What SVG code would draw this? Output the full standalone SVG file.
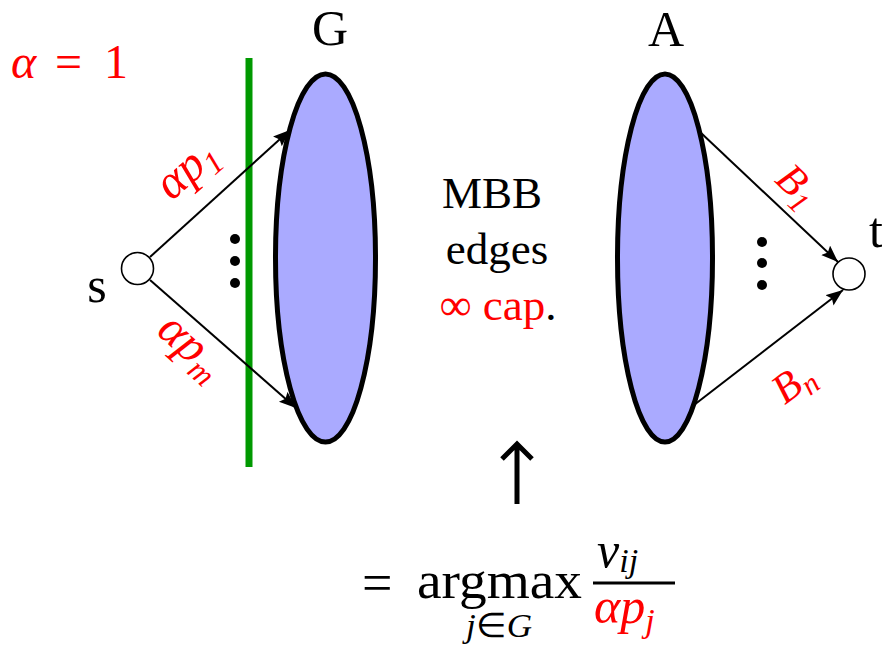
<svg xmlns="http://www.w3.org/2000/svg" width="882" height="651" viewBox="0 0 882 651">
<defs>
<style>
text{font-family:"Liberation Serif","Times New Roman",serif}
.ital{font-style:italic}
.red{fill:#ff0000}
.set{fill:#aaaaff;stroke:#000;stroke-width:5}
.vert{fill:#fff;stroke:#000;stroke-width:1.6}
.edge{stroke:#000;stroke-width:2;fill:none;marker-end:url(#ah)}
.dot{fill:#000}
</style>
<marker id="ah" markerUnits="userSpaceOnUse" markerWidth="18" markerHeight="14" refX="17" refY="6.5" orient="auto">
<path d="M0,0 L17,6.5 L0,13 L3,6.5 z" fill="#000"/>
</marker>
</defs>
<rect width="882" height="651" fill="#fff"/>

<g id="alpha-eq" font-family="Liberation Serif, serif">
<text x="11" y="78" class="ital red" font-size="48">α</text>
<text x="55" y="78" class="red" font-size="48">=</text>
<text x="104" y="78" class="red" font-size="48">1</text>
</g>

<g id="cut">
<line x1="249" y1="58" x2="249" y2="467" stroke="#009900" stroke-width="7"/>
</g>

<g id="G">
<ellipse cx="325.5" cy="258" rx="50" ry="184" class="set"/>
<text x="330" y="45" font-family="Liberation Serif, serif" font-size="50" text-anchor="middle">G</text>
</g>

<g id="A">
<ellipse cx="665" cy="258" rx="47.5" ry="184" class="set"/>
<text x="666" y="46" font-family="Liberation Serif, serif" font-size="50" text-anchor="middle">A</text>
</g>

<g id="s">
<circle cx="137.5" cy="268.5" r="16" class="vert"/>
<text x="97" y="302" font-family="Liberation Serif, serif" font-size="50" text-anchor="middle">s</text>
</g>

<g id="t">
<circle cx="849" cy="274" r="16" class="vert"/>
<text x="876" y="247" font-family="Liberation Serif, serif" font-size="50" text-anchor="middle">t</text>
</g>

<g id="middle-label" font-family="Liberation Serif, serif">
<text x="492" y="208" font-size="45" text-anchor="middle">MBB</text>
<text x="497" y="264" font-size="45" text-anchor="middle">edges</text>
<text x="498" y="320" font-size="45" text-anchor="middle"><tspan fill="#ff0000">∞ cap</tspan>.</text>
</g>

<g id="connectors">
<line x1="150" y1="257" x2="290" y2="130" class="edge"/>
<line x1="150" y1="280" x2="296" y2="408" class="edge"/>
<line x1="700" y1="132" x2="838" y2="262" class="edge"/>
<line x1="694" y1="405" x2="843" y2="290" class="edge"/>
<g id="dots-left">
<circle cx="235" cy="239" r="5" class="dot"/>
<circle cx="235" cy="261" r="5" class="dot"/>
<circle cx="235" cy="283" r="5" class="dot"/>
</g>
<g id="dots-right">
<circle cx="762" cy="242" r="5" class="dot"/>
<circle cx="762" cy="263" r="5" class="dot"/>
<circle cx="762" cy="285" r="5" class="dot"/>
</g>
<path d="M517,504 L517,446 M502,459 L517,444 L532,459" stroke="#000" stroke-width="5" fill="none"/>
</g>

<g id="edge-labels" font-family="Liberation Serif, serif">
<text transform="translate(196,180) rotate(-41)" class="ital red" font-size="48" text-anchor="middle">αp<tspan font-size="32" dy="9">1</tspan></text>
<text transform="translate(182,357) rotate(42)" class="ital red" font-size="48" text-anchor="middle">αp<tspan font-size="32" dy="9">m</tspan></text>
<text transform="translate(788,195) rotate(44)" class="ital red" font-size="42" text-anchor="middle">B<tspan font-size="30" dy="8">1</tspan></text>
<text transform="translate(801,393) rotate(-37)" class="ital red" font-size="42" text-anchor="middle">B<tspan font-size="30" dy="8">n</tspan></text>
</g>

<g id="formula" font-family="Liberation Serif, serif">
<text x="362" y="601" font-size="54">=</text>
<text x="417" y="598" font-size="52" textLength="165" lengthAdjust="spacingAndGlyphs">argmax</text>
<text x="466" y="637" font-size="34" textLength="66" lengthAdjust="spacingAndGlyphs"><tspan class="ital">j</tspan>∈<tspan class="ital">G</tspan></text>
<rect x="593" y="581.5" width="82" height="3" fill="#000"/>
<text x="597" y="567" class="ital" font-size="50">v<tspan font-size="34" dy="5">ij</tspan></text>
<text x="594" y="623" class="ital red" font-size="50">αp<tspan font-size="34" dy="9">j</tspan></text>
</g>
</svg>
